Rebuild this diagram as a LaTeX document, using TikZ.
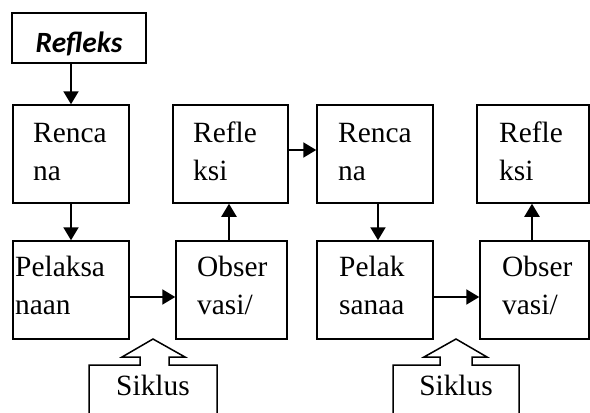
\documentclass[tikz,border=0pt]{standalone}
\usepackage{fontspec}
\setmainfont{Liberation Serif}
\newfontfamily\calibri{Carlito}
\usetikzlibrary{arrows.meta,calc}
\begin{document}
\begin{tikzpicture}[x=1bp,y=-1bp,
  box/.style={draw,line width=1.5bp,minimum height=98bp,inner sep=0pt},
  txt/.style={anchor=north west,align=left,inner sep=0pt,font=\fontsize{29.5}{38}\selectfont},
  conn/.style={line width=2bp,-{Triangle[length=13bp,width=15bp]}},
  callout/.style={line width=1.5bp,line join=miter}]
\useasboundingbox (0,0) rectangle (590,412);
% top title
\node[draw,line width=1.5bp,minimum width=134bp,minimum height=50bp,inner sep=0pt] (rf) at (79,38) {};
\node[anchor=base,inner sep=0pt,font=\calibri\bfseries\itshape\fontsize{29.5}{34}\selectfont] (rft) at (79,52) {Refleks};
% top row
\node[box,minimum width=116bp] (r1) at (71,154) {};
\node[box,minimum width=115bp] (rl1) at (230.5,154) {};
\node[box,minimum width=116bp] (r2) at (375,154) {};
\node[box,minimum width=112bp] (rl2) at (533,154) {};
% bottom row
\node[box,minimum width=116bp] (p1) at (71,290) {};
\node[box,minimum width=111bp] (o1) at (231.5,290) {};
\node[box,minimum width=116bp] (p2) at (375,290) {};
\node[box,minimum width=109bp] (o2) at (534.5,290) {};
% texts
\node[txt] (r1t) at (33,123) {Renca\\na};
\node[txt] (rl1t) at (193,122) {Refle\\ksi};
\node[txt] (r2t) at (338,123) {Renca\\na};
\node[txt] (rl2t) at (499,122) {Refle\\ksi};
\node[txt] (p1t) at (15,256) {Pelaksa\\naan};
\node[txt] (o1t) at (197,256) {Obser\\vasi/};
\node[txt] (p2t) at (339,256) {Pelak\\sanaa};
\node[txt] (o2t) at (502,256) {Obser\\vasi/};
% connectors
\draw[conn] (r1.north |- rf.south) -- (r1.north);
\draw[conn] (r1) -- (p1);
\draw[conn] (o1.north -| 229,0) -- (rl1.south -| 229,0);
\draw[conn] ([yshift=4bp]rl1.east) -- ([yshift=4bp]r2.west);
\draw[conn] (r2.south -| 378,0) -- (p2.north -| 378,0);
\draw[conn] (o2.north -| 532,0) -- (rl2.south -| 532,0);
\draw[conn] ([yshift=-7bp]p1.east) -- ([yshift=-7bp]o1.west);
\draw[conn] ([yshift=-7bp]p2.east) -- ([yshift=-7bp]o2.west);
% Siklus callouts
\node[anchor=base,inner sep=0pt,font=\fontsize{29.5}{34}\selectfont] (s1) at (153,395) {Siklus};
\node[anchor=base,inner sep=0pt,font=\fontsize{29.5}{34}\selectfont] (s2) at (456,395) {Siklus};
\draw[callout] (89,414) -- (89,365) -- (140,365) -- (140,357) -- (122,357) -- (153,339)
  -- (185,357) -- (169,357) -- (169,365) -- (217,365) -- (217,414);
\draw[callout] (393,414) -- (393,365) -- (440,365) -- (440,357) -- (424,357) -- (456,339)
  -- (487,357) -- (472,357) -- (472,365) -- (519,365) -- (519,414);
\end{tikzpicture}
\end{document}
